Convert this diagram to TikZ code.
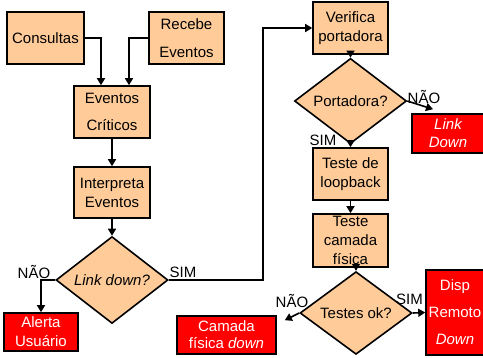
\documentclass[tikz,border=0pt]{standalone}
\usepackage{fontspec}
\setmainfont{Liberation Sans}
\usetikzlibrary{arrows.meta, positioning, shapes.geometric}
\definecolor{peach}{RGB}{255,204,153}

\begin{document}
\begin{tikzpicture}[x=1pt, y=-1pt,
            font=\fontsize{15}{19}\selectfont,
            flow/.style={line width=1.6pt, -{Triangle[length=7pt, width=8pt]}},
            stepbox/.style={draw, line width=1.6pt, fill=peach, inner sep=0pt, align=center, minimum width=75pt, minimum height=52pt},
            decision/.style={draw, diamond, line width=1.6pt, fill=peach, inner sep=0pt, minimum width=112pt, minimum height=64pt},
            alarm/.style={draw, line width=1.6pt, fill=red, text=white, inner sep=0pt, align=center},
            branch label/.style={inner sep=0pt}]

            \useasboundingbox (0,0) rectangle (483,357);

            % Entrada de eventos
            \node[stepbox, minimum width=77pt] (cons) at (45.5,38) {Consultas};
            \node[stepbox, font=\fontsize{15}{28}\selectfont] (rec) at (186.5,38) {Recebe\\Eventos};
            \node[stepbox, minimum width=76pt, font=\fontsize{15}{27}\selectfont] (crit) at (112,112) {Eventos\\Críticos};
            \node[stepbox, minimum width=76pt, minimum height=51pt] (interp) at (112,192.5) {Interpreta\\Eventos};
            \node[decision] (link) at (112,280) {\itshape Link down?};
            \node[alarm, minimum width=74pt, minimum height=38pt] (alerta) at (41,332) {Alerta\\Usuário};

            % Diagnostico
            \node[stepbox] (verif) at (350.5,28) {Verifica\\portadora};
            \node[decision] (port) at (350.5,101) {Portadora?};
            \node[alarm, minimum width=72pt, minimum height=39pt, font=\fontsize{15}{18}\selectfont\itshape] (linkd) at (448,133.5) {Link\\Down};
            \node[stepbox] (loop) at (350.5,174) {Teste de\\loopback};
            \node[stepbox, minimum height=53pt] (fis) at (350.5,240.5) {Teste\\camada\\física};
            \node[decision, minimum height=62pt] (testes) at (356,313) {Testes ok?};
            \node[alarm, minimum width=99pt, minimum height=38pt, font=\fontsize{15}{17}\selectfont] (camada) at (226.5,335) {Camada\\física \textit{down}};
            \node[alarm, minimum width=58pt, minimum height=85pt, font=\fontsize{15}{27}\selectfont] (disp) at (455,312.5) {Disp\\Remoto\\\textit{Down}};

            % Rotulos dos ramos
            \node[branch label] at (34,272) {NÃO};
            \node[branch label] at (183,272) {SIM};
            \node[branch label] at (424,97) {NÃO};
            \node[branch label] at (323,140) {SIM};
            \node[branch label] at (292,301) {NÃO};
            \node[branch label] at (409.5,299) {SIM};

            % Conectores
            \draw[flow] (cons.east) -| ([xshift=-11pt]crit.north);
            \draw[flow] (rec.west) -| ([xshift=17pt]crit.north);
            \draw[flow] (crit) -- (interp);
            \draw[flow] (interp) -- (link);
            \draw[flow] (link.west) -| (alerta.north);
            \draw[flow] (link.east) -- ++(94,0) |- (verif.west);
            \draw[flow] (verif) -- (port);
            \draw[flow] (port.east) -- ([xshift=-15pt, yshift=4pt]linkd.north);
            \draw[flow] (port) -- (loop);
            \draw[flow] (loop) -- (fis);
            \draw[flow] ([xshift=5.5pt]fis.south) -- (testes.north);
            \draw[flow] (testes.west) -- ([xshift=8pt, yshift=-5pt]camada.north east);
            \draw[flow] (testes.east) -- (disp.west);
        \end{tikzpicture}
\end{document}
